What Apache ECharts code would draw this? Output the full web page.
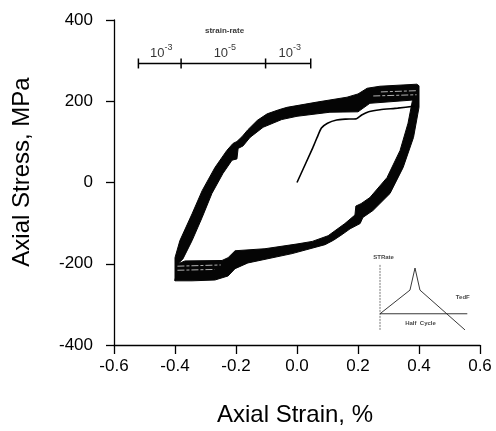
<!DOCTYPE html>
<html><head><meta charset="utf-8">
<script src="https://cdn.jsdelivr.net/npm/echarts@6/dist/echarts.min.js"></script>
<style>html,body{margin:0;padding:0;background:#fff}#c{width:496px;height:431px}</style>
</head><body><div id="c"></div>
<script>
// ---- data (strain %, stress MPa) ----
const loopOuter = [
  [-0.400,-242],[-0.400,-185],[-0.384,-143],[-0.344,-77],[-0.311,-20],[-0.269,37],
  [-0.230,79],[-0.210,96],[-0.197,101],[-0.180,113],[-0.161,130],[-0.130,153],
  [-0.098,169],[-0.060,179],[-0.033,185],[0.066,198],[0.164,210],[0.200,218],[0.230,232],
  [0.272,237],[0.393,242],[0.400,238],[0.400,185],[0.382,111],[0.348,37],
  [0.305,-27],[0.249,-69],[0.216,-86],[0.207,-101],[0.174,-114],[0.148,-128],
  [0.120,-142],[0.092,-153],[-0.016,-175],[-0.161,-198],[-0.203,-212],[-0.226,-230],
  [-0.269,-240],[-0.344,-242]
];
const loopInner = [
  [-0.390,-200],[-0.374,-188],[-0.344,-143],[-0.311,-86],[-0.279,-27],[-0.243,22],
  [-0.213,55],[-0.197,58],[-0.193,84],[-0.177,90],[-0.154,111],[-0.111,136],
  [-0.050,155],[0.000,163],[0.108,173],[0.200,174],[0.239,195],[0.380,203],[0.378,200],
  [0.364,146],[0.338,79],[0.295,12],[0.239,-37],[0.210,-52],[0.193,-58],
  [0.190,-80],[0.157,-101],[0.102,-131],[0.050,-145],[0.003,-151],[-0.105,-163],[-0.203,-168],
  [-0.226,-185],[-0.246,-192],[-0.367,-193]
];
const initialLoading = [
  [0,0],[0.052,86],[0.066,111],[0.080,134],[0.100,146],[0.130,154],[0.160,156],
  [0.195,157],[0.212,166],[0.235,174],[0.272,179],[0.330,183],[0.385,188]
];
const streaks = [
  [[0.250,213],[0.392,216]],
  [[0.275,223],[0.392,226]],
  [[-0.392,-206],[-0.250,-203]],
  [[-0.392,-216],[-0.270,-214]]
];
const rateBarStrain = [-0.52,-0.38,-0.103,0.045];
const rateExponents = ['-3','-5','-3'];
const rateTitle = 'strain-rate';
const insetRate = [[0,0],[0.333,0.44],[0.389,0.85],[0.444,0.44],[0.944,-0.30]];
const insetBase = [[0,0],[0.97,0]];
const insetVert = [[0,-0.3],[0,0.92]];

// ---- layout constants ----
const barY = 293, barLabelY = 322, barTitleY = 373;
const FONT = '"Liberation Sans", Arial, Helvetica, sans-serif';

const chart = echarts.init(document.getElementById('c'), null, {renderer:'canvas'});

const series = [];
series.push({
  type:'custom', xAxisIndex:0, yAxisIndex:0, data:[[0,0]], clip:false,
  renderItem: function(params, api){
    const pts = [];
    loopOuter.forEach(p => pts.push(api.coord(p)));
    pts.push(api.coord(loopOuter[0]));
    pts.push(api.coord(loopInner[0]));
    for (let i = loopInner.length-1; i >= 0; i--) pts.push(api.coord(loopInner[i]));
    return {type:'polygon', shape:{points:pts, smooth:0}, style:{fill:'#050505', stroke:'#050505', lineWidth:1, lineJoin:'round'}};
  },
  z:2
});
series.push({type:'line', data:initialLoading, symbol:'none', smooth:0.2,
  lineStyle:{color:'#000', width:1.6}, z:3});
streaks.forEach(s => series.push({type:'line', data:s, symbol:'none',
  lineStyle:{color:'#ddd', width:0.8, type:[7,2,3,2]}, z:4}));
series.push({type:'line', data:rateBarStrain.map(x=>[x,barY]), symbol:'rect', symbolSize:[1.5,10],
  itemStyle:{color:'#000'}, lineStyle:{color:'#000', width:1.4}, z:3});
const mids = [];
for (let i=0;i<rateExponents.length;i++) mids.push([(rateBarStrain[i]+rateBarStrain[i+1])/2 + 0.005, barLabelY, rateExponents[i]]);
series.push({type:'scatter', data:mids, symbolSize:1, itemStyle:{color:'rgba(0,0,0,0)'},
  label:{show:true, position:'inside', formatter:p=>'{b|10}{s|'+p.data[2]+'}',
    rich:{b:{fontSize:13, fontFamily:FONT, color:'#000', verticalAlign:'bottom', lineHeight:17},
          s:{fontSize:9, fontFamily:FONT, color:'#000', verticalAlign:'top', lineHeight:17}}}, z:5});
series.push({type:'scatter', data:[[(rateBarStrain[0]+rateBarStrain[3])/2, barTitleY]], symbolSize:1,
  itemStyle:{color:'rgba(0,0,0,0)'},
  label:{show:true, position:'inside', formatter:rateTitle, fontSize:8, fontWeight:'bold', fontFamily:FONT, color:'#000'}, z:5});
// inset
series.push({type:'line', xAxisIndex:1, yAxisIndex:1, data:insetVert, symbol:'none',
  lineStyle:{color:'#555', width:0.8, type:[2,1]}});
series.push({type:'line', xAxisIndex:1, yAxisIndex:1, data:insetBase, symbol:'none',
  lineStyle:{color:'#222', width:0.9}});
series.push({type:'line', xAxisIndex:1, yAxisIndex:1, data:insetRate, symbol:'none',
  lineStyle:{color:'#222', width:0.9}});
series.push({type:'scatter', xAxisIndex:1, yAxisIndex:1, clip:false, symbolSize:1,
  itemStyle:{color:'rgba(0,0,0,0)'},
  data:[[0.04,1.04,'STRate',5],[0.92,0.31,'TedF',5],[0.45,-0.17,'Half  Cycle',7]],
  label:{show:true, position:'inside', fontFamily:FONT, fontWeight:'bold', color:'#111',
    formatter:p=>p.data[2], fontSize:6}, z:5});

const option = {
  animation:false,
  backgroundColor:'#fff',
  grid:[{left:114, top:20, width:366, height:325},
        {left:380, top:254.6, width:90, height:75.3}],
  xAxis:[{type:'value', gridIndex:0, min:-0.6, max:0.6, interval:0.2,
    axisLine:{show:true, onZero:false, lineStyle:{color:'#000', width:1.3}},
    axisTick:{show:true, inside:false, length:9, lineStyle:{color:'#000', width:1.3}},
    splitLine:{show:false},
    axisLabel:{fontSize:17, fontFamily:FONT, color:'#000', margin:13, formatter:v=>v.toFixed(1)}},
    {type:'value', gridIndex:1, min:0, max:1, show:false}],
  yAxis:[{type:'value', gridIndex:0, min:-400, max:400, interval:200,
    axisLine:{show:true, onZero:false, lineStyle:{color:'#000', width:1.3}},
    axisTick:{show:true, inside:false, length:8, lineStyle:{color:'#000', width:1.3}},
    splitLine:{show:false},
    axisLabel:{fontSize:17, fontFamily:FONT, color:'#000', margin:21}},
    {type:'value', gridIndex:1, min:-0.3, max:1.1, show:false}],
  graphic:[
    {type:'text', x:295, y:415, style:{text:'Axial Strain, %', font:'24px '+FONT, fill:'#000', textAlign:'center', textVerticalAlign:'middle'}},
    {type:'text', x:22, y:172, rotation:Math.PI/2, style:{text:'Axial Stress, MPa', font:'24px '+FONT, fill:'#000', textAlign:'center', textVerticalAlign:'middle'}}
  ],
  series:series
};
chart.setOption(option);
</script></body></html>
